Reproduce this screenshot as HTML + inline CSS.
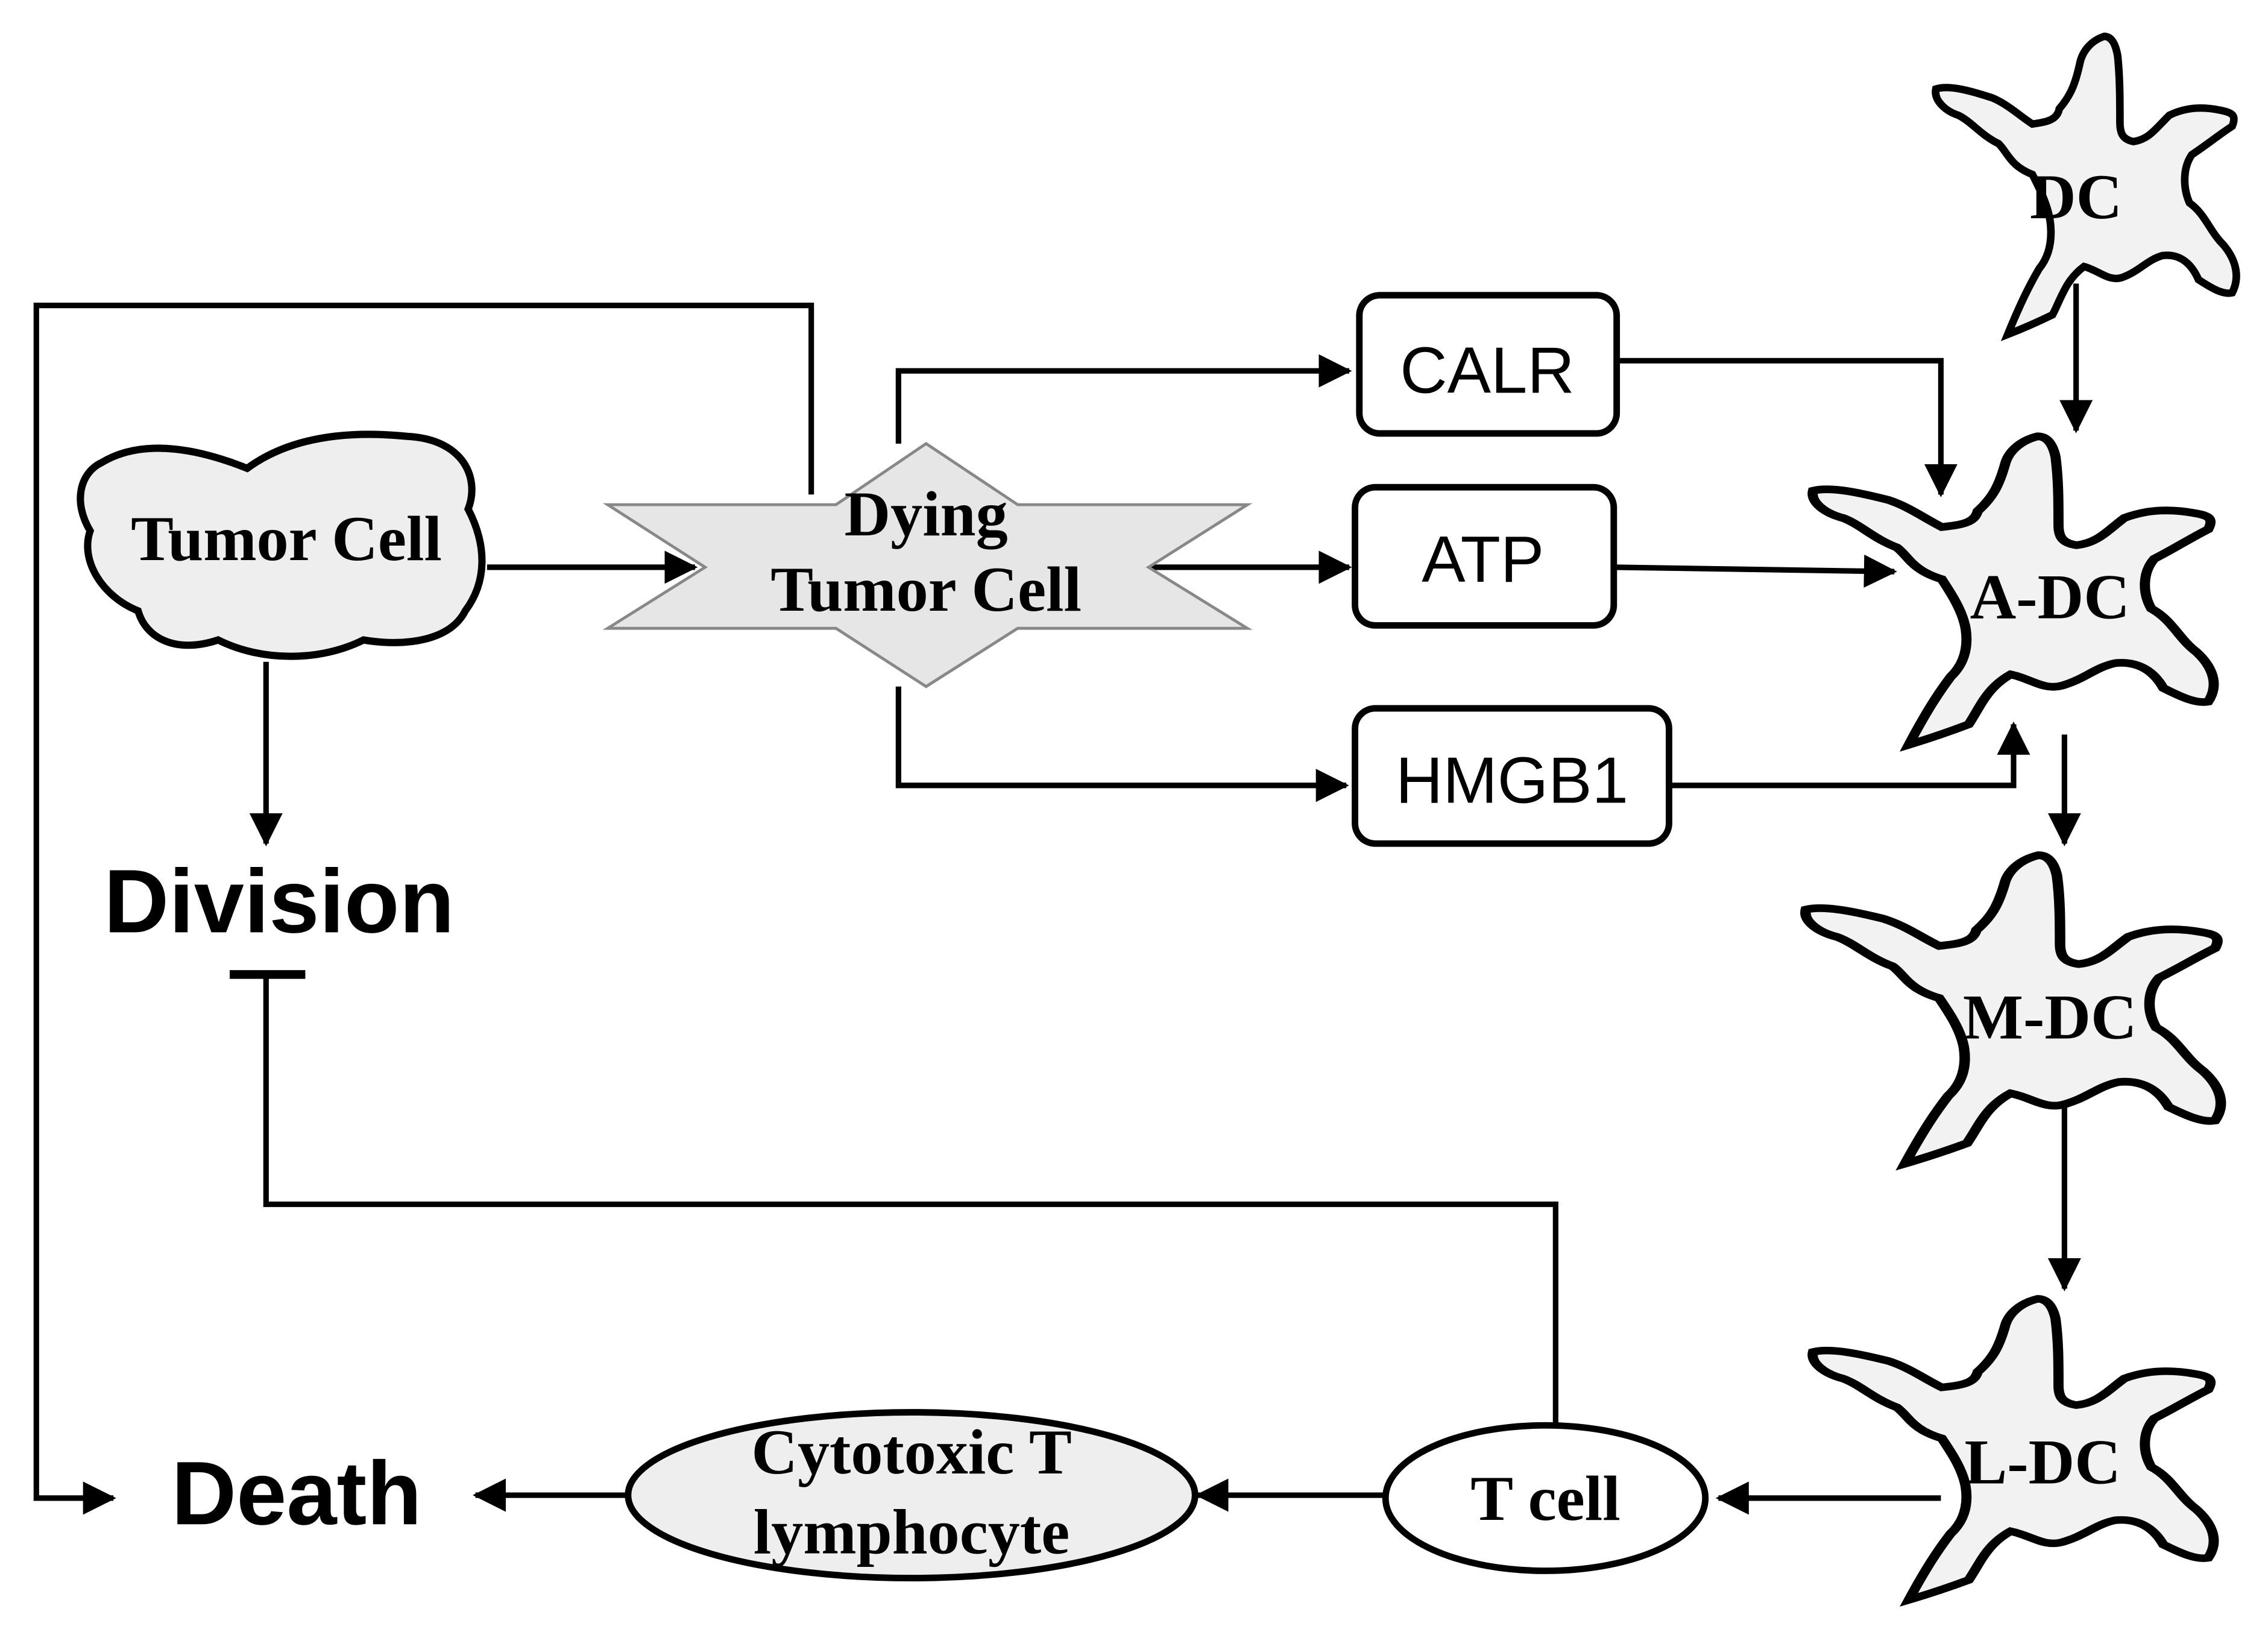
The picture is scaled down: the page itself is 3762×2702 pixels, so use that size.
<!DOCTYPE html>
<html><head><meta charset="utf-8"><style>html,body{margin:0;padding:0;background:#fff}svg{display:block}</style></head>
<body>
<svg width="3762" height="2702" viewBox="0 0 1560 1120" preserveAspectRatio="none" xmlns="http://www.w3.org/2000/svg">
<defs>
<marker id="a" markerWidth="6" markerHeight="6" refX="5.5" refY="3" orient="auto" markerUnits="strokeWidth"><path d="M0,0 L6,3 L0,6 Z" fill="#000"/></marker>
<path id="dc" d="M850,110 C790,130 750,180 740,240 C720,330 700,380 650,440 C640,490 600,500 530,510 C470,470 420,420 350,390 C260,360 160,330 100,350 C90,400 140,450 200,470 C260,500 300,560 380,600 C420,640 430,700 530,740 C560,800 600,880 610,960 C620,1050 600,1120 560,1170 C520,1240 480,1320 420,1470 C470,1450 540,1420 620,1380 C660,1300 680,1220 760,1160 C830,1180 870,1230 930,1210 C1010,1180 1040,1130 1110,1110 C1190,1100 1240,1150 1270,1220 C1330,1260 1380,1290 1420,1280 C1460,1200 1430,1120 1380,1060 C1320,1000 1300,920 1230,870 C1200,800 1200,710 1240,650 C1300,610 1360,560 1420,520 C1440,470 1420,460 1380,450 C1300,430 1220,430 1140,470 C1080,530 1050,580 980,590 C930,580 920,550 920,500 C920,400 920,300 910,200 C900,140 880,110 850,110 Z"/>
</defs>
<g fill="none" stroke="#000" stroke-width="3.8">
<polyline points="558,340 558,210 25,210 25,1030 78,1030" marker-end="url(#a)"/>
<line x1="335" y1="390" x2="478" y2="390" marker-end="url(#a)"/>
<polyline points="618,305 618,255 928,255" marker-end="url(#a)"/>
<polyline points="618,472 618,540 926,540" marker-end="url(#a)"/>
<line x1="790" y1="390" x2="928" y2="390" marker-end="url(#a)"/>
<polyline points="1112,248 1335,248 1335,340" marker-end="url(#a)"/>
<line x1="1110" y1="390" x2="1303" y2="393" marker-end="url(#a)"/>
<polyline points="1148,540 1385,540 1385,498" marker-end="url(#a)"/>
<line x1="1428" y1="195" x2="1428" y2="296" marker-end="url(#a)"/>
<line x1="1420" y1="505" x2="1420" y2="580" marker-end="url(#a)"/>
<line x1="1420" y1="760" x2="1420" y2="886" marker-end="url(#a)"/>
<line x1="1335" y1="1030" x2="1182" y2="1030" marker-end="url(#a)"/>
<line x1="955" y1="1028" x2="824" y2="1028" marker-end="url(#a)"/>
<line x1="432" y1="1028" x2="327" y2="1028" marker-end="url(#a)"/>
<polyline points="1070,980 1070,828 183,828 183,672"/>
<line x1="158" y1="670" x2="210" y2="670" stroke-width="6"/>
<line x1="183" y1="455" x2="183" y2="580" marker-end="url(#a)"/>
</g>
<path d="M70,318 C100,300 140,310 170,322 C200,300 240,296 280,300 C320,302 330,330 322,350 C335,375 335,400 320,420 C310,440 280,445 250,440 C220,455 180,455 150,440 C120,450 100,438 95,420 C70,410 55,385 62,365 C50,345 55,325 70,318 Z" fill="#eeeeee" stroke="#000" stroke-width="5"/>
<polygon points="418,347 575,347 637,305 700,347 858,347 790,390 858,432 700,432 637,472 575,432 418,432 485,390" fill="#e6e6e6" stroke="#888" stroke-width="2"/>
<g fill="#fff" stroke="#000" stroke-width="4.5">
<rect x="935" y="203" width="177" height="95" rx="14"/>
<rect x="932" y="335" width="178" height="95" rx="14"/>
<rect x="932" y="487" width="216" height="93" rx="14"/>
<ellipse cx="1063" cy="1030" rx="110" ry="50"/>
<ellipse cx="627" cy="1028" rx="195" ry="57" fill="#eeeeee"/>
</g>
<g fill="#f2f2f2" stroke="#000" stroke-width="34">
<use href="#dc" transform="translate(1330,25) scale(0.1544,0.1507) translate(-90,-110)"/>
<use href="#dc" transform="translate(1245,300) scale(0.2059,0.1559) translate(-90,-110)"/>
<use href="#dc" transform="translate(1240,588) scale(0.2132,0.1559) translate(-90,-110)"/>
<use href="#dc" transform="translate(1245,893) scale(0.2059,0.1522) translate(-90,-110)"/>
</g>
<g font-family="Liberation Serif, serif" font-weight="bold" font-size="44" text-anchor="middle" fill="#000">
<text x="197" y="385">Tumor Cell</text>
<text x="637" y="368">Dying</text>
<text x="637" y="420">Tumor Cell</text>
<text x="1428" y="150">DC</text>
<text x="1410" y="425">A-DC</text>
<text x="1410" y="714">M-DC</text>
<text x="1405" y="1020">L-DC</text>
<text x="1063" y="1045">T cell</text>
<text x="627" y="1013">Cytotoxic T</text>
<text x="627" y="1068">lymphocyte</text>
</g>
<g font-family="Liberation Sans, sans-serif" font-size="45" text-anchor="middle" fill="#000">
<text x="1023" y="270">CALR</text>
<text x="1020" y="400">ATP</text>
<text x="1040" y="552">HMGB1</text>
</g>
<g font-family="Liberation Sans, sans-serif" font-weight="bold" font-size="62" text-anchor="middle" fill="#000">
<text x="192" y="641">Division</text>
<text x="204" y="1048">Death</text>
</g>
</svg>
</body></html>
